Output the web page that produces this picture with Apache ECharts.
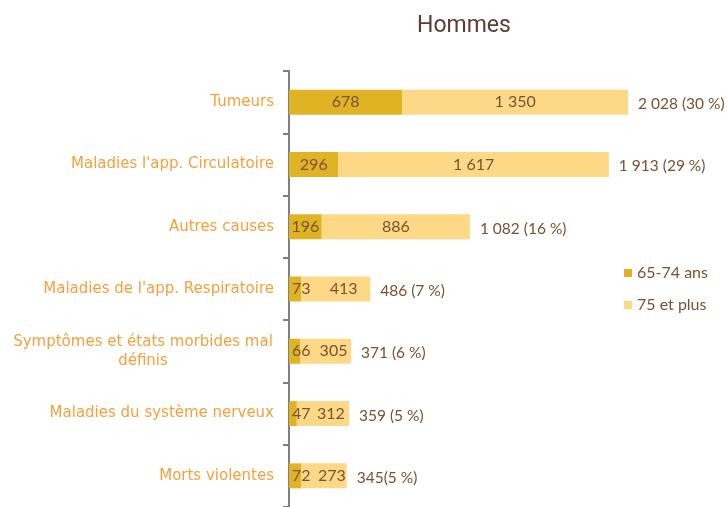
<!DOCTYPE html>
<html>
<head>
<meta charset="utf-8">
<script src="https://cdn.jsdelivr.net/npm/echarts@6/dist/echarts.min.js"></script>
<style>html,body{margin:0;padding:0;background:#fff}#c{width:727px;height:507px}</style>
</head>
<body>
<div id="c"></div>
<script>
const categories = [
  "Tumeurs",
  "Maladies l'app. Circulatoire",
  "Autres causes",
  "Maladies de l'app. Respiratoire",
  "Symptômes et états morbides mal\ndéfinis",
  "Maladies du système nerveux",
  "Morts violentes"
];
const seriesNames = ["65-74 ans", "75 et plus"];
const values6574 = [678, 296, 196, 73, 66, 47, 72];
const values75plus = [1350, 1617, 886, 413, 305, 312, 273];
const totalLabels = ["2 028 (30 %)", "1 913 (29 %)", "1 082 (16 %)", "486 (7 %)", "371 (6 %)", "359 (5 %)", "345(5 %)"];

const FONT = "Lato";
const CATFONT = "DejaVu Sans";
const fmt = v => String(v).replace(/\B(?=(\d{3})+(?!\d))/g, " ");
const SMALL = 100;

const chart = echarts.init(document.getElementById('c'), null, {renderer: 'canvas'});
chart.setOption({
  animation: false,
  backgroundColor: '#ffffff',
  title: {
    text: 'Hommes',
    left: 412, top: 10,
    textStyle: {fontFamily: 'Roboto', fontSize: 23, fontWeight: 'normal', color: '#5E3B35'}
  },
  legend: {
    data: seriesNames,
    orient: 'vertical',
    left: 619, top: 260,
    itemWidth: 8, itemHeight: 8, itemGap: 16,
    icon: 'rect',
    textStyle: {fontFamily: FONT, fontSize: 16, color: '#7B5130'}
  },
  grid: {left: 289, right: 20, top: 71, height: 439, containLabel: false},
  xAxis: {type: 'value', min: 0, max: 2500, show: false},
  yAxis: {
    type: 'category', data: categories, inverse: true,
    axisLine: {show: true, lineStyle: {color: '#7F7F7F', width: 2}},
    axisTick: {show: true, length: 6, lineStyle: {color: '#7F7F7F', width: 2}},
    axisLabel: {
      margin: 15,
      fontFamily: CATFONT, fontSize: 15, color: '#F4A03C',
      formatter: v => v.indexOf('\n') >= 0 ? v.split('\n').map(s => '{c|' + s + '}').join('\n') : v,
      rich: {c: {align: 'center', width: 262, fontFamily: CATFONT, fontSize: 15, color: '#F4A03C', lineHeight: 19}}
    }
  },
  series: [
    {
      name: seriesNames[0], type: 'bar', stack: 'a', barWidth: 25,
      data: values6574.map(v => v < SMALL
        ? {value: v, label: {position: 'insideLeft', distance: 3}}
        : v),
      itemStyle: {color: '#E0B324'},
      label: {show: true, position: 'inside', fontFamily: FONT, fontSize: 16, color: '#7B5130', formatter: p => fmt(p.value)}
    },
    {
      name: seriesNames[1], type: 'bar', stack: 'a', barWidth: 25,
      data: values75plus.map((v, i) => values6574[i] < SMALL
        ? {value: v, label: {offset: [8, 0]}}
        : v),
      itemStyle: {color: '#FDD886'},
      label: {show: true, position: 'inside', fontFamily: FONT, fontSize: 16, color: '#7B5130', formatter: p => fmt(p.value)}
    },
    {
      name: 'total', type: 'bar', stack: 'a', barWidth: 25,
      data: totalLabels.map(() => 0),
      itemStyle: {color: 'transparent'},
      label: {show: true, position: 'right', distance: 10, fontFamily: FONT, fontSize: 15.5, color: '#7B5130',
        offset: [0, 2],
        formatter: p => totalLabels[p.dataIndex]}
    }
  ]
});
</script>
</body>
</html>
